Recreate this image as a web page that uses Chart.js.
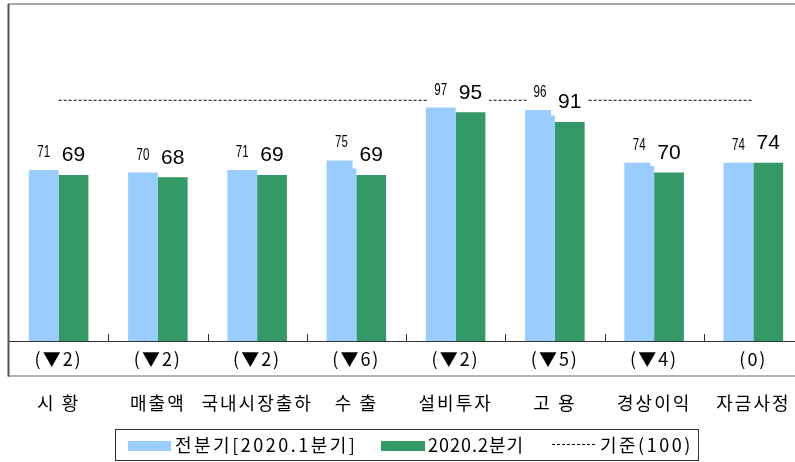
<!DOCTYPE html>
<html><head><meta charset="utf-8">
<script src="https://cdn.jsdelivr.net/npm/chart.js@4/dist/chart.umd.min.js"></script>
<style>html,body{margin:0;padding:0;overflow:hidden;background:#fff;width:795px;height:462px}#w{width:815px;height:462px}</style>
</head><body><div id="w"><canvas id="c" width="815" height="462"></canvas></div>
<script>
const categories = ["시 황","매출액","국내시장출하","수 출","설비투자","고 용","경상이익","자금사정"];
const changeLabels = ["(▼2)","(▼2)","(▼2)","(▼6)","(▼2)","(▼5)","(▼4)","(0)"];
const prevQuarter = [71,70,71,75,97,96,74,74];
const currQuarter = [69,68,69,69,95,91,70,74];
const baseline = [100,100,100,100,100,100,100,100];
const seriesNames = ["전분기[2020.1분기]","2020.2분기","기준(100)"];

const BLUE = "#99CCFF", GREEN = "#339966";
const KFONT = "'Noto Sans CJK KR', 'Noto Sans', sans-serif";

const spacingPlugin = {
  id: 'spacing',
  beforeDraw(chart) { chart.ctx.letterSpacing = '2px'; }
};

const framePlugin = {
  id: 'frame',
  afterDatasetsDraw(chart) {
    const ctx = chart.ctx, a = chart.chartArea, xs = chart.scales.x;
    ctx.save();
    ctx.letterSpacing = '0px';
    // inner ticks between categories
    ctx.strokeStyle = '#333'; ctx.lineWidth = 1;
    for (let i = 1; i < categories.length; i++) {
      const x = Math.round((xs.getPixelForValue(i - 1) + xs.getPixelForValue(i)) / 2) + 0.5;
      ctx.beginPath(); ctx.moveTo(x, a.bottom - 7); ctx.lineTo(x, a.bottom); ctx.stroke();
    }
    // axis line
    ctx.beginPath(); ctx.moveTo(a.left - 1, a.bottom + 0.5); ctx.lineTo(chart.width, a.bottom + 0.5); ctx.stroke();
    // bottom line of frame
    ctx.strokeStyle = '#999'; ctx.lineWidth = 1.5;
    ctx.beginPath(); ctx.moveTo(a.left - 1, 376); ctx.lineTo(chart.width, 376); ctx.stroke();
    // top border
    ctx.strokeStyle = '#a8a8a8'; ctx.lineWidth = 2;
    ctx.beginPath(); ctx.moveTo(a.left - 1, a.top); ctx.lineTo(chart.width, a.top); ctx.stroke();
    // left border
    ctx.strokeStyle = '#555'; ctx.lineWidth = 2;
    ctx.beginPath(); ctx.moveTo(a.left - 0.5, a.top); ctx.lineTo(a.left - 0.5, 376.5); ctx.stroke();

    // value labels
    const items = [];
    [0, 1].forEach(di => {
      const meta = chart.getDatasetMeta(di);
      meta.data.forEach((bar, i) => {
        const v = chart.data.datasets[di].data[i];
        const t = String(v);
        let w, h, font, sx;
        if (di === 0) { font = "17px 'Liberation Sans', Arial, sans-serif"; sx = 0.68; h = 12.5; }
        else { font = "21px 'Liberation Sans', Arial, sans-serif"; sx = 1; h = 15; }
        ctx.font = font;
        w = ctx.measureText(t).width * sx;
        const base = bar.y - (di === 0 ? 13 : 13.5);
        items.push({t, x: bar.x, y: base, w, h, font, sx});
      });
    });
    ctx.fillStyle = '#fff';
    items.forEach(it => ctx.fillRect(it.x - it.w / 2 - 7, it.y - it.h - 7, it.w + 14, it.h + 14));
    ctx.fillStyle = '#000';
    ctx.textAlign = 'center'; ctx.textBaseline = 'alphabetic';
    items.forEach(it => {
      ctx.save(); ctx.font = it.font; ctx.translate(it.x, it.y); ctx.scale(it.sx, 1);
      ctx.fillText(it.t, 0, 0); ctx.restore();
    });

    // legend
    ctx.strokeStyle = '#333'; ctx.lineWidth = 1;
    ctx.strokeRect(115.5, 429.5, 583, 31);
    ctx.fillStyle = BLUE; ctx.fillRect(128, 441, 43, 10);
    ctx.fillStyle = GREEN; ctx.fillRect(381, 441, 44, 10);
    ctx.strokeStyle = '#000'; ctx.setLineDash([3, 2]);
    ctx.beginPath(); ctx.moveTo(552, 444.5); ctx.lineTo(597, 444.5); ctx.stroke();
    ctx.setLineDash([]);
    ctx.fillStyle = '#000'; ctx.font = "18px " + KFONT; ctx.textAlign = 'left'; ctx.textBaseline = 'middle';
    ctx.letterSpacing = '2.5px';
    ctx.fillText(seriesNames[0], 175, 445);
    ctx.letterSpacing = '1px';
    ctx.fillText(seriesNames[1], 428, 445);
    ctx.letterSpacing = '2.5px';
    ctx.fillText(seriesNames[2], 600, 445);
    ctx.restore();
  }
};

new Chart(document.getElementById('c'), {
  data: {
    labels: categories.map((c, i) => [changeLabels[i], c]),
    datasets: [
      { type: 'bar', label: seriesNames[0], data: prevQuarter, backgroundColor: BLUE, barPercentage: 1, categoryPercentage: 0.6, order: 2 },
      { type: 'bar', label: seriesNames[1], data: currQuarter, backgroundColor: GREEN, barPercentage: 1, categoryPercentage: 0.6, order: 2 },
      { type: 'line', label: seriesNames[2], data: baseline, borderColor: '#000', borderWidth: 1, borderDash: [3, 2], pointRadius: 0, fill: false, order: 1 }
    ]
  },
  options: {
    responsive: false, devicePixelRatio: 1, animation: false,
    layout: { padding: { left: 9, right: 12, top: 4, bottom: 0 } },
    plugins: { legend: { display: false }, tooltip: { enabled: false } },
    scales: {
      x: {
        grid: { display: false }, border: { display: false },
        ticks: { color: '#000', font: { family: KFONT, size: 18, lineHeight: '44px' }, padding: -12, maxRotation: 0, autoSkip: false },
        afterFit(s) { s.height = 121; }
      },
      y: { display: false, min: 0, max: 140 }
    }
  },
  plugins: [spacingPlugin, framePlugin]
});
</script></body></html>
